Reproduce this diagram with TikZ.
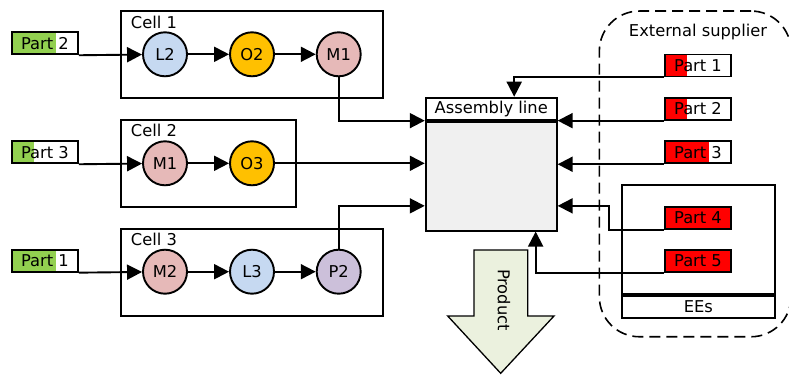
\documentclass[tikz,border=0pt]{standalone}
\usepackage{fontspec}
\setmainfont{DejaVu Sans}
\usetikzlibrary{arrows.meta}

\definecolor{partgreen}{HTML}{92D050}
\definecolor{partred}{HTML}{FF0000}
\definecolor{lblue}{HTML}{C6D9F1}
\definecolor{oorange}{HTML}{FFC000}
\definecolor{mpink}{HTML}{E6B9B8}
\definecolor{ppurple}{HTML}{CCC0DA}
\definecolor{prodgreen}{HTML}{EBF1DE}
\definecolor{asmgray}{HTML}{F0F0F0}

\tikzset{
  every node/.style={font=\fontsize{16.3pt}{19pt}\selectfont},
  station/.style={circle, draw, fill=#1, minimum size=44pt, inner sep=0pt},
  cellbox/.style={draw, rectangle, inner sep=0pt},
  partbox/.style 2 args={draw, rectangle, fill=white, minimum width=66pt,
    minimum height=22pt, inner sep=0pt,
    path picture={\fill[#1] (path picture bounding box.south west)
      rectangle ([xshift=#2]path picture bounding box.north west);}},
  flow/.style={-{Triangle[length=15pt,width=15pt]}},
}

\begin{document}
\begin{tikzpicture}[x=1pt, y=-1pt, line width=1.9pt]
    \useasboundingbox (0,0) rectangle (789,377);

    % supplier
    \node[draw, line width=1.6pt, dash pattern=on 11pt off 6pt, rounded corners=40pt,
      minimum width=191.7pt, minimum height=325.7pt] (supplier) at (695.2,173.9) {};
    \node (suplabel) at (698,32.3) {External supplier};
    \node[draw, fill=white, minimum width=153.3pt, minimum height=109pt, inner sep=0pt] (eebox) at (698.3,239.5) {};
    \node[draw, fill=white, minimum width=153.3pt, minimum height=21.7pt, inner sep=0pt, anchor=north] (eelabel) at (eebox.south) {EEs};

    % cells
    \node[cellbox, minimum width=262pt, minimum height=87pt] (cell1) at (252,54.7) {};
    \node[cellbox, minimum width=175pt, minimum height=87pt] (cell2) at (208.5,163.4) {};
    \node[cellbox, minimum width=262pt, minimum height=87pt] (cell3) at (252,272.2) {};
    \node[anchor=west, inner sep=0pt] (c1label) at (130,22) {Cell 1};
    \node[anchor=west, inner sep=0pt] (c2label) at (130,130.5) {Cell 2};
    \node[anchor=west, inner sep=0pt] (c3label) at (130,239.3) {Cell 3};

    % stations
    \node[station=lblue] (l2) at (165,54.3) {L2};
    \node[station=oorange] (o2) at (252,54.3) {O2};
    \node[station=mpink] (m1) at (338.7,54.3) {M1};
    \node[station=mpink] (m1b) at (165,163.3) {M1};
    \node[station=oorange] (o3) at (252,163.3) {O3};
    \node[station=mpink] (m2) at (165,271.7) {M2};
    \node[station=lblue] (l3) at (252,271.7) {L3};
    \node[station=ppurple] (p2) at (338.7,271.7) {P2};

    % parts in
    \node[partbox={partgreen}{44pt}] (inpart2) at (45,43.3) {Part 2};
    \node[partbox={partgreen}{22pt}] (inpart3) at (45,152.3) {Part 3};
    \node[partbox={partgreen}{44pt}] (inpart1) at (45,260.7) {Part 1};

    % parts out
    \node[partbox={partred}{22.3pt}] (pt1) at (698,65.5) {Part 1};
    \node[partbox={partred}{22.3pt}] (pt2) at (698,108.7) {Part 2};
    \node[partbox={partred}{44.3pt}] (pt3) at (698,152.3) {Part 3};
    \node[partbox={partred}{66pt}] (pt4) at (698,217.8) {Part 4};
    \node[partbox={partred}{66pt}] (pt5) at (698,260.8) {Part 5};

    % assembly
    \node[draw, fill=white, minimum width=131pt, minimum height=22pt, inner sep=0pt] (asmhead) at (491.2,108.7) {Assembly line};
    \node[draw, fill=asmgray, minimum width=131pt, minimum height=109pt, anchor=north] (asm) at (asmhead.south) {};

    % product
    \draw[fill=prodgreen, line width=1.3pt] (474,250) -- (527.7,250) -- (527.7,316) -- (554,316)
      -- (500.7,373.3) -- (447.7,316) -- (474,316) -- cycle;
    \node[rotate=-90] (product) at (504,300) {Product};

    % flows in cells
    \draw[flow] (inpart2.south east) -- (l2);
    \draw[flow] (l2) -- (o2);
    \draw[flow] (o2) -- (m1);
    \draw[flow] (inpart3.south east) -- (m1b);
    \draw[flow] (m1b) -- (o3);
    \draw[flow] (inpart1.south east) -- (m2);
    \draw[flow] (m2) -- (l3);
    \draw[flow] (l3) -- (p2);

    % flows to assembly
    \draw[flow] (m1) |- (asm.north west);
    \draw[flow] (o3) -- (o3 -| asm.west);
    \draw[flow] (p2) |- (asm.west |- pt4.north);
    \draw[flow] (pt1.south west) -| ([xshift=23pt]asmhead.north);
    \draw[flow] (pt2.south west) -- (asmhead.south east);
    \draw[flow] (pt3.south west) -- (pt3.south west -| asm.east);
    \draw[flow] (pt4.south west) -- ++(-54.7,0) |- (asm.east |- pt4.north);
    \draw[flow] (pt5.south west) -| ([xshift=-22pt]asm.south east);

\end{tikzpicture}
\end{document}
